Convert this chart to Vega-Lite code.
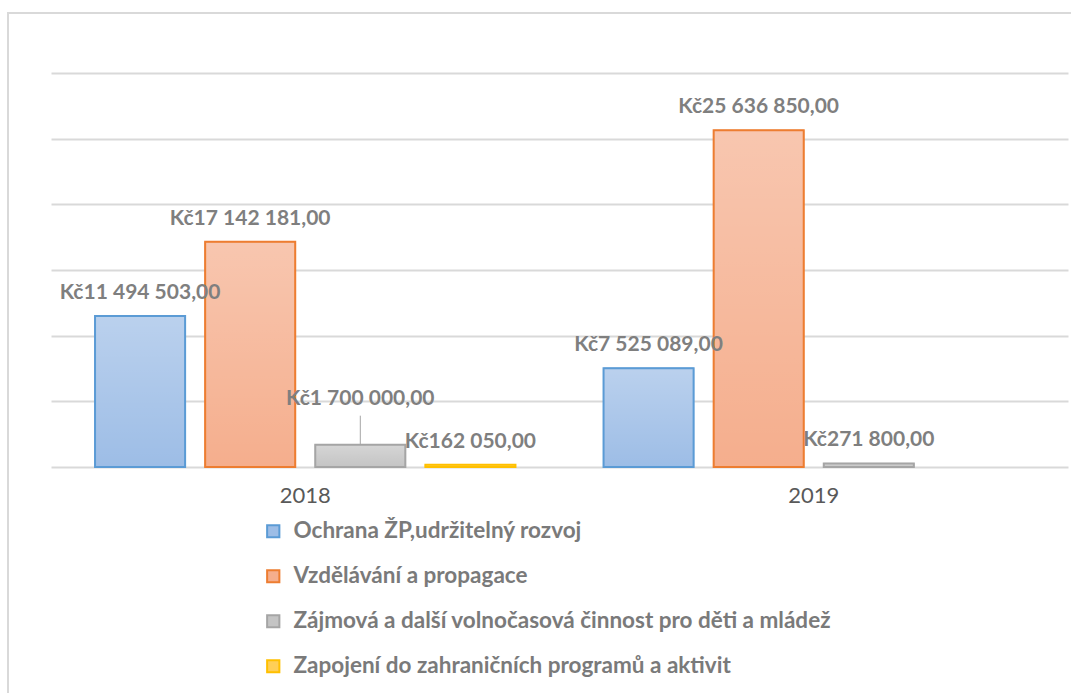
{
  "$schema": "https://vega.github.io/schema/vega-lite/v6.json",
  "autosize": {"type": "none"},
  "padding": {"left": 8, "top": 13, "right": 0, "bottom": 0},
  "width": 1070,
  "height": 690,
  "background": "white",
  "config": {
    "view": {"stroke": "#d9d9d9", "strokeWidth": 2},
    "font": "Lato"
  },
  "data": {
    "values": [
      {"rok": "2018", "oblast": "Ochrana ŽP,udržitelný rozvoj", "castka": 11494503, "popis": "Kč11 494 503,00"},
      {"rok": "2018", "oblast": " Vzdělávání a propagace", "castka": 17142181, "popis": "Kč17 142 181,00"},
      {"rok": "2018", "oblast": "Zájmová a další volnočasová činnost pro děti a mládež", "castka": 1700000, "popis": "Kč1 700 000,00"},
      {"rok": "2018", "oblast": "Zapojení do zahraničních programů a aktivit", "castka": 162050, "popis": "Kč162 050,00"},
      {"rok": "2019", "oblast": "Ochrana ŽP,udržitelný rozvoj", "castka": 7525089, "popis": "Kč7 525 089,00"},
      {"rok": "2019", "oblast": " Vzdělávání a propagace", "castka": 25636850, "popis": "Kč25 636 850,00"},
      {"rok": "2019", "oblast": "Zájmová a další volnočasová činnost pro děti a mládež", "castka": 271800, "popis": "Kč271 800,00"}
    ]
  },
  "encoding": {
    "x": {
      "field": "rok", "type": "nominal",
      "scale": {"range": [43, 1060], "paddingInner": 0, "paddingOuter": 0},
      "axis": {
        "title": null, "orient": "bottom", "offset": -236, "domain": false, "ticks": false,
        "labelAngle": 0, "labelFontSize": 22, "labelColor": "#595959", "labelPadding": 18, "labelFont": "Lato"
      }
    },
    "xOffset": {
      "field": "oblast", "type": "nominal",
      "scale": {"domain": ["Ochrana ŽP,udržitelný rozvoj", " Vzdělávání a propagace", "Zájmová a další volnočasová činnost pro děti a mládež", "Zapojení do zahraničních programů a aktivit"], "paddingInner": 0.182, "paddingOuter": 0.4}
    },
    "y": {
      "field": "castka", "type": "quantitative",
      "scale": {"domain": [0, 30000000], "range": [454, 60], "nice": false},
      "axis": {
        "title": null, "labels": false, "ticks": false, "domain": false,
        "grid": true, "gridColor": "#d9d9d9", "gridWidth": 2,
        "values": [0, 5000000, 10000000, 15000000, 20000000, 25000000, 30000000]
      }
    }
  },
  "layer": [
    {
      "mark": {"type": "bar"},
      "encoding": {
        "fill": {
          "field": "oblast", "type": "nominal",
          "scale": {
            "domain": ["Ochrana ŽP,udržitelný rozvoj", " Vzdělávání a propagace", "Zájmová a další volnočasová činnost pro děti a mládež", "Zapojení do zahraničních programů a aktivit"],
            "range": ["#9dbde6", "#f5ae8d", "#c4c4c4", "#ffcf57"]
          },
          "legend": {
            "orient": "none", "legendX": 254, "legendY": 507, "title": null,
            "direction": "vertical", "symbolType": "square", "symbolSize": 150, "symbolStrokeWidth": 2,
            "labelFontSize": 22.5, "labelFontWeight": "bold", "labelColor": "#7a7a7a", "labelFont": "Lato",
            "labelOffset": 9, "rowPadding": 22, "labelLimit": 800, "padding": 0,
            "labelExpr": "indexof(datum.label, ' V') == 0 ? '\u00a0\u00a0' + trim(datum.label) : datum.label"
          }
        },
        "stroke": {
          "field": "oblast", "type": "nominal",
          "scale": {
            "domain": ["Ochrana ŽP,udržitelný rozvoj", " Vzdělávání a propagace", "Zájmová a další volnočasová činnost pro děti a mládež", "Zapojení do zahraničních programů a aktivit"],
            "range": ["#5b9bd5", "#ed7d31", "#a5a5a5", "#ffc000"]
          },
          "legend": null
        }
      }
    },
    {
      "mark": {
        "type": "bar", "strokeWidth": 2,
        "fill": {
          "gradient": "linear", "x1": 0, "y1": 0, "x2": 0, "y2": 1,
          "stops": [
            {"offset": 0, "color": "rgba(255,255,255,0.3)"},
            {"offset": 1, "color": "rgba(255,255,255,0)"}
          ]
        }
      },
      "encoding": {
        "stroke": {"field": "oblast", "type": "nominal", "legend": null}
      }
    },
    {
      "transform": [{"filter": "datum.castka != 1700000"}],
      "mark": {"type": "text", "baseline": "alphabetic", "dy": -17, "fontSize": 21, "fontWeight": "bold", "color": "#7f7f7f", "font": "Lato"},
      "encoding": {"text": {"field": "popis"}}
    },
    {
      "transform": [{"filter": "datum.castka == 1700000"}],
      "mark": {"type": "text", "baseline": "alphabetic", "dy": -40, "fontSize": 21, "fontWeight": "bold", "color": "#7f7f7f", "font": "Lato"},
      "encoding": {"text": {"field": "popis"}}
    },
    {
      "transform": [{"filter": "datum.castka == 1700000"}],
      "mark": {"type": "rule", "color": "#a5a5a5", "strokeWidth": 1, "y2Offset": -29},
      "encoding": {"y2": {"field": "castka"}}
    }
  ]
}
